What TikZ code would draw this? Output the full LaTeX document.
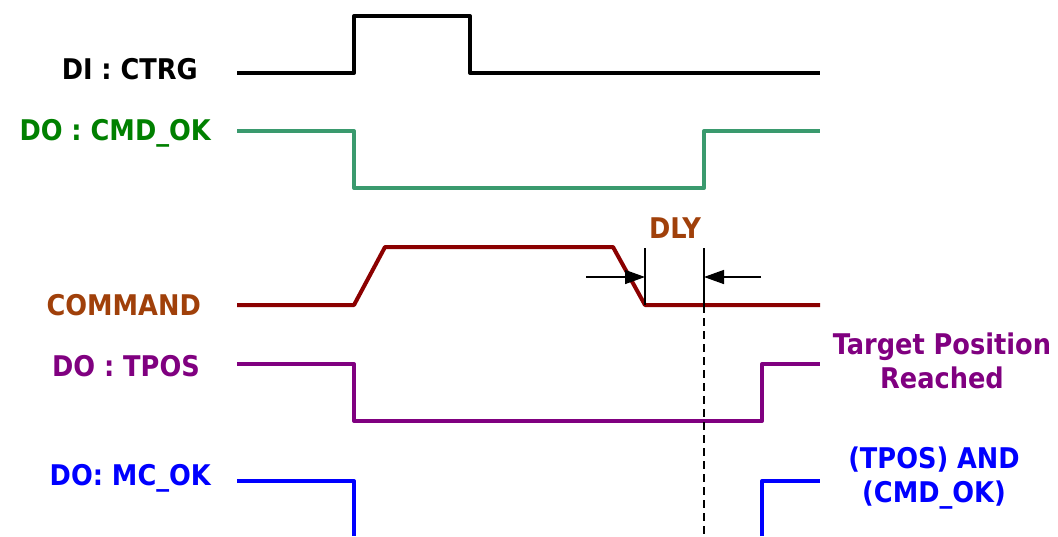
\documentclass[tikz,border=0pt]{standalone}
\usepackage{fontspec}
\setmainfont{DejaVu Sans Condensed}
\usetikzlibrary{arrows.meta}
\definecolor{trgline}{HTML}{000000}
\definecolor{oktext}{HTML}{008000}
\definecolor{okline}{HTML}{3A9A6E}
\definecolor{cmdtext}{HTML}{A0400A}
\definecolor{cmdline}{HTML}{8B0000}
\definecolor{tpostext}{HTML}{800080}
\definecolor{mctext}{HTML}{0000FF}
\tikzset{
  sig/.style={line width=4pt,line join=round},
  siglabel/.style={anchor=east,inner sep=0pt},
  sidenote/.style={align=center,inner sep=0pt},
  dimline/.style={line width=1.5pt,draw=black},
  dimarr/.style={-{Triangle[length=20pt,width=14pt]},line width=1.5pt,draw=black},
  marker/.style={line width=2.5pt,dash pattern=on 8pt off 5pt}
}

\begin{document}
\begin{tikzpicture}[x=1pt,y=-1pt,font=\fontsize{28.5}{34}\selectfont\bfseries]
  \useasboundingbox (0,0) rectangle (1058,536);
  % signal names
  \node[siglabel,text=black] (ctrg) at (198,69) {DI : CTRG};
  \node[siglabel,text=oktext] (cmdok) at (211,133) {DO : CMD\_OK};
  \node[siglabel,text=cmdtext] (cmd) at (201,305) {COMMAND};
  \node[siglabel,text=tpostext] (tpos) at (200,366) {DO : TPOS};
  \node[siglabel,text=mctext] (mcok) at (211,478) {DO: MC\_OK};
  % waveforms
  \draw[sig,trgline] (237,73) -- (354,73) -- (354,16) -- (470,16) -- (470,73) -- (820,73);
  \draw[sig,okline] (237,131) -- (354,131) -- (354,188) -- (704,188) -- (704,131) -- (820,131);
  \draw[sig,cmdline] (237,305) -- (354,305) -- (385,247) -- (613,247) -- (645,305) -- (820,305);
  \draw[sig,tpostext] (237,364) -- (354,364) -- (354,421) -- (762,421) -- (762,364) -- (820,364);
  \draw[sig,mctext] (237,481) -- (354,481) -- (354,536);
  \draw[sig,mctext] (762,536) -- (762,481) -- (820,481);
  % delay between command end and CMD_OK
  \coordinate (dlyA) at (645,248);
  \coordinate (dlyB) at (704,248);
  \draw[dimline] (dlyA) -- (645,305);
  \draw[dimline] (dlyB) -- (704,305);
  \coordinate (arrA) at (586,277);
  \coordinate (arrB) at (761,277);
  \draw[dimarr] (arrA) -- (645,277);
  \draw[dimarr] (arrB) -- (704,277);
  \node[text=cmdtext,inner sep=0pt] (dly) at (675,228) {DLY};
  \draw[marker] (704,305) -- (704,536);
  % notes on the right
  \node[sidenote,text=tpostext] (tposnote) at (942,361) {Target Position\\Reached};
  \node[sidenote,text=mctext] (mcnote) at (934,478) {(TPOS) AND\\(CMD\_OK)};
\end{tikzpicture}
\end{document}
